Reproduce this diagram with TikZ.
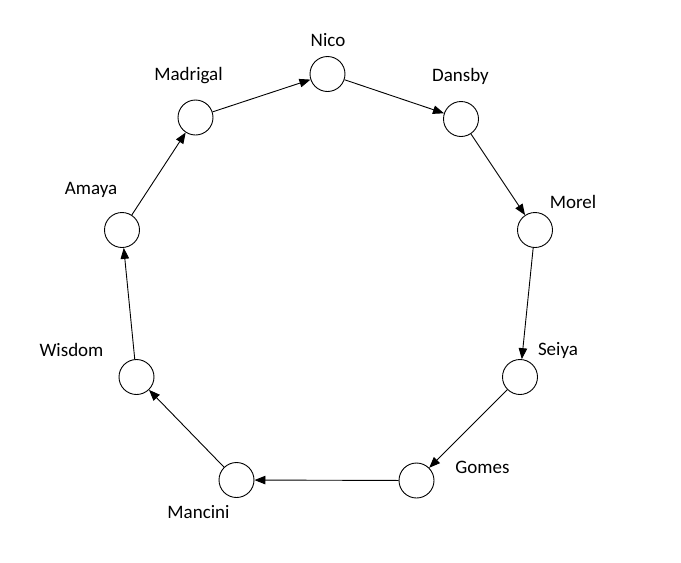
\documentclass[tikz,border=0pt]{standalone}
\usepackage{fontspec}
\setmainfont{Carlito}
\usetikzlibrary{arrows.meta}
\begin{document}
\begin{tikzpicture}[x=1pt,y=-1pt,
    person/.style={draw, circle, minimum size=35pt, inner sep=0pt, line width=0.9pt},
    personlabel/.style={font=\fontsize{19}{22}\selectfont},
    link/.style={line width=0.9pt, -{Triangle[length=11pt,width=8.5pt]}}]
        \useasboundingbox (0,0) rectangle (681,563);
        % the ring of people
        \foreach \id/\x/\y in {nico/327.5/74, dansby/461/119, morel/535/230, seiya/520/377,
                               gomes/416.5/480.5, mancini/236.5/480, wisdom/136.5/377,
                               amaya/122/230, madrigal/195.5/117.5}{
            \node[person] (\id) at (\x,\y) {};
        }
        % names
        \node[personlabel] (niconame) at (328,40) {Nico};
        \node[personlabel] (dansbyname) at (460.5,76) {Dansby};
        \node[personlabel] (morelname) at (573,202) {Morel};
        \node[personlabel] (seiyaname) at (558,350) {Seiya};
        \node[personlabel] (gomesname) at (482.5,467) {Gomes};
        \node[personlabel] (mancininame) at (198.5,512) {Mancini};
        \node[personlabel] (wisdomname) at (71.5,350) {Wisdom};
        \node[personlabel] (amayaname) at (91,190) {Amaya};
        \node[personlabel] (madrigalname) at (188.5,76) {Madrigal};
        % arrows round the ring
        \foreach \a/\b in {nico/dansby, dansby/morel, morel/seiya, seiya/gomes, gomes/mancini,
                           mancini/wisdom, wisdom/amaya, amaya/madrigal, madrigal/nico}{
            \draw[link] (\a) -- (\b);
        }
\end{tikzpicture}
\end{document}
